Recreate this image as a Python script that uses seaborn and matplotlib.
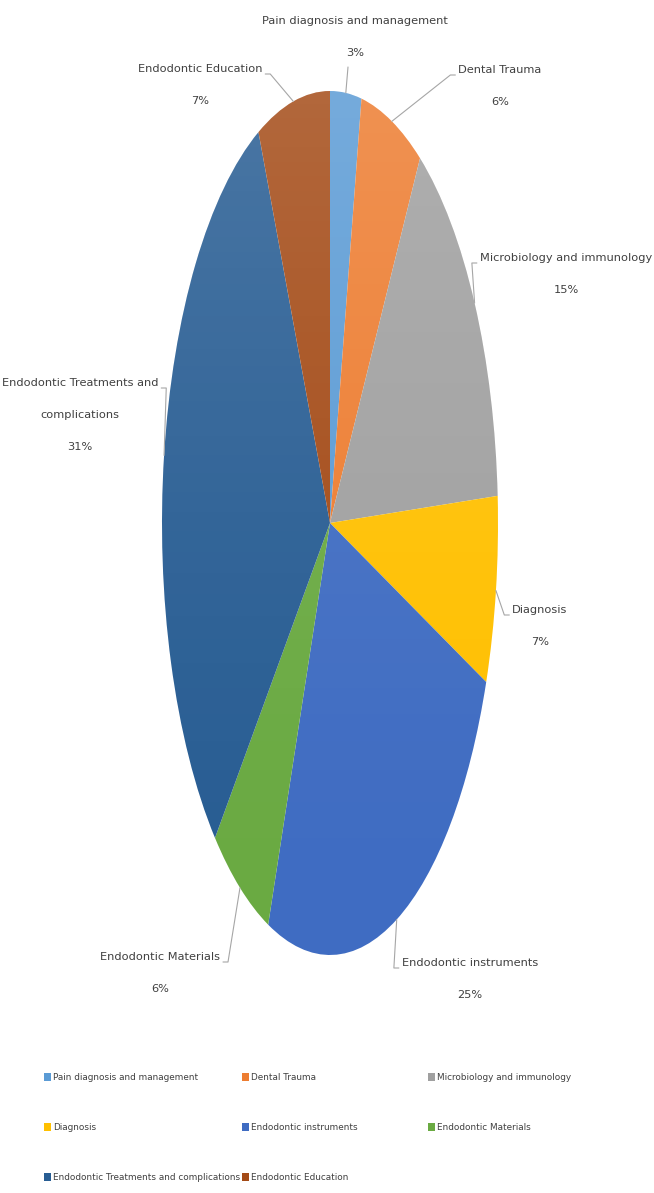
import numpy as np
import matplotlib
matplotlib.use("Agg")
import matplotlib.pyplot as plt
from matplotlib import font_manager as fm
from matplotlib.patches import Patch, Circle
import seaborn as sns

# Research topic shares (%)
categories = [
    "Pain diagnosis and management",
    "Dental Trauma",
    "Microbiology and immunology",
    "Diagnosis",
    "Endodontic instruments",
    "Endodontic Materials",
    "Endodontic Treatments and complications",
    "Endodontic Education",
]
shares = [3, 6, 15, 7, 25, 6, 31, 7]
slice_labels = [
    ["Pain diagnosis and management"],
    ["Dental Trauma"],
    ["Microbiology and immunology"],
    ["Diagnosis"],
    ["Endodontic instruments"],
    ["Endodontic Materials"],
    ["Endodontic Treatments and", "complications"],
    ["Endodontic Education"],
]
hex_colors = ["#5B9BD5", "#ED7D31", "#A0A0A0", "#FFC000",
              "#3F6CC2", "#6AAA42", "#285D93", "#A44B17"]

sns.set_theme(style="white")
TEXT = "#404040"
palette = sns.color_palette(hex_colors)

# Prefer a narrow face if one is installed, otherwise a compact sans
narrow = [f for f in fm.fontManager.ttflist
          if "condensed" in str(f.stretch).lower() or "narrow" in f.name.lower()]
narrow = [f for f in narrow if f.style == "normal"
          and str(f.weight) in ("400", "normal", "regular")]
if narrow:
    family = [fm.FontProperties(fname=narrow[0].fname).get_name()]
else:
    family = ["Liberation Sans"]
plt.rcParams["font.family"] = family + ["DejaVu Sans"]

W, H = 654, 1193
fig = plt.figure(figsize=(W / 100, H / 100), dpi=100)
renderer = fig.canvas.get_renderer()


def text_width(s, size):
    t = fig.text(0, 0, s, fontsize=size)
    w = t.get_window_extent(renderer).width
    t.remove()
    return w


# Label size: longest one-line label about 186 px wide
FS = min(11.5, 10 * 186 / text_width(categories[0], 10))
# Legend size: longest entry must fit its column
LFS = min(FS, 10 * 186 / text_width(categories[6], 10))

# Pie drawn in an axes whose box is taller than wide, giving an elliptical pie
cx, cy, rx, ry = 330, 523, 168, 432
ax = fig.add_axes([(cx - rx) / W, (H - cy - ry) / H, 2 * rx / W, 2 * ry / H])
wedges, _ = ax.pie(shares, colors=palette, startangle=90, counterclock=False,
                   radius=1.0, wedgeprops=dict(linewidth=0))
ax.set_xlim(-1, 1)
ax.set_ylim(-1, 1)
ax.set_aspect("auto")
ax.axis("off")

# Soft top-to-bottom sheen over the pie
grad = np.linspace(1, 0, 256)[:, None]
sheen = np.zeros((256, 1, 4))
sheen[..., :3] = 1.0
sheen[..., 3] = 0.16 * grad ** 1.5
im = ax.imshow(sheen, extent=(-1, 1, -1, 1), aspect="auto", zorder=3,
               interpolation="bilinear")
im.set_clip_path(Circle((0, 0), 1.0, transform=ax.transData))
ax.set_xlim(-1, 1)
ax.set_ylim(-1, 1)


def px(x, y):
    """Pixel position (from top-left) to the pie axes data units."""
    return (x - cx) / rx, (cy - y) / ry


def half_width(s):
    return text_width(s, FS) / 2


# Label block centre (first line), in pixels; leader lines leave the label's
# inner end and run to the middle of the slice's rim
label_pos = [(355, 21), (500, 70), (566, 258), (540, 610),
             (470, 963), (160, 957), (80, 383), (200, 69)]
LINE = 32

total = float(sum(shares))
cum = np.cumsum([0] + shares[:-1])
for i, (lines, val) in enumerate(zip(slice_labels, shares)):
    mid = (cum[i] + val / 2.0) / total * 2 * np.pi
    ex, ey = np.sin(mid), np.cos(mid)
    x0, y0 = label_pos[i]
    if i == 0:
        start = [(x0 - 7, y0 + LINE + 14)]
    else:
        hw = half_width(lines[0]) + 3
        side = -1 if x0 > cx else 1
        sx = x0 + side * hw
        start = [(sx, y0 + 5), (sx + side * 5, y0 + 5)]
    pts = [px(*p) for p in start] + [(ex, ey)]
    xs, ys = zip(*pts)
    ax.plot(xs, ys, color="#A6A6A6", lw=0.8, clip_on=False, zorder=1)
    for k, txt in enumerate(lines + [f"{val}%"]):
        tx, ty = px(x0, y0 + LINE * k)
        ax.text(tx, ty, txt, ha="center", va="center", fontsize=FS,
                color=TEXT, clip_on=False)

# Legend: three columns of entries, filled row by row
handles = [Patch(facecolor=c, edgecolor="none") for c in palette]
col_x = [44, 242, 428]
em = LFS * 100 / 72
for c in range(3):
    idx = list(range(c, len(categories), 3))
    fig.legend([handles[k] for k in idx], [categories[k] for k in idx],
               loc="upper left",
               bbox_to_anchor=(col_x[c] / W, (H - 1073) / H),
               frameon=False, fontsize=LFS, handlelength=7 / em,
               handleheight=9 / em, handletextpad=2 / em,
               labelspacing=(50 - em) / em,
               borderpad=0, borderaxespad=0, labelcolor=TEXT)

fig.savefig("out.png", dpi=100, facecolor="white")
